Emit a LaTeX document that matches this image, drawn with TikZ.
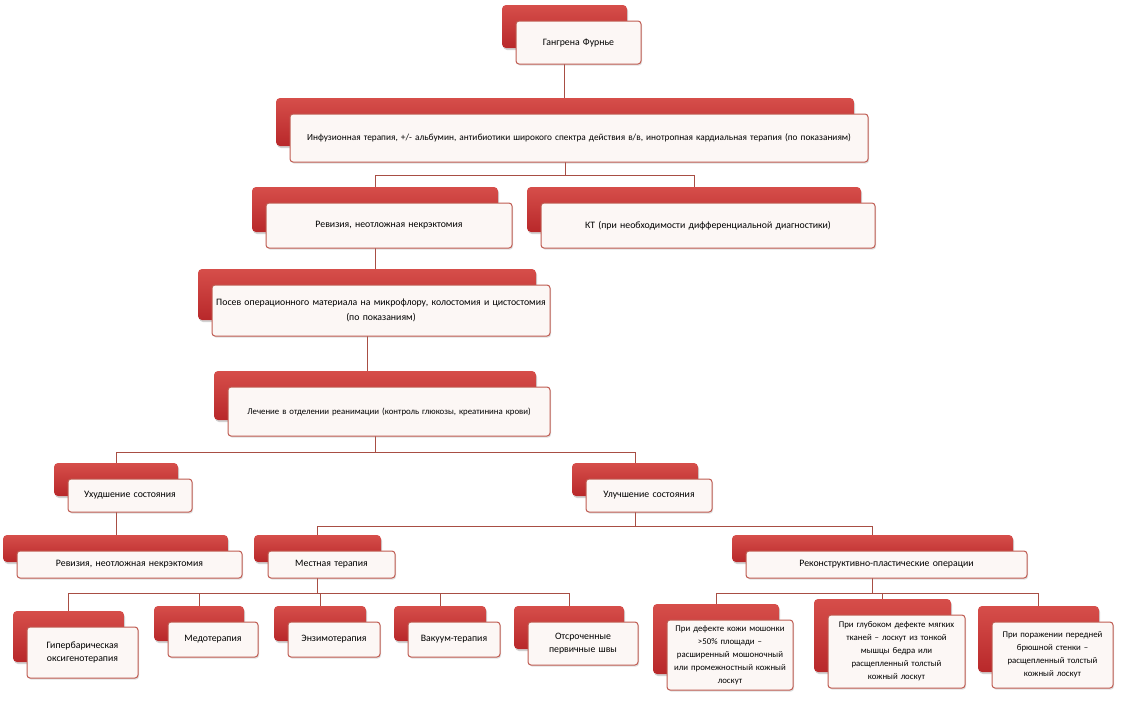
\documentclass[tikz,border=0pt]{standalone}
\usepackage{fontspec}
\setmainfont{Carlito}
\usetikzlibrary{shadows,calc}
\definecolor{redA}{RGB}{214,78,74}
\definecolor{redB}{RGB}{184,40,42}
\definecolor{wfill}{RGB}{252,247,245}
\definecolor{wline}{RGB}{192,92,82}
\definecolor{cline}{RGB}{168,78,68}
\pgfdeclarelayer{paper}
\pgfdeclarelayer{bg}
\pgfsetlayers{paper,bg,main}
\tikzset{
  redbox/.style={rounded corners=4pt, top color=redA, bottom color=redB, draw=none,
    inner sep=0pt, drop shadow={opacity=0.35, shadow xshift=1pt, shadow yshift=-2pt}},
  whitebox/.style={rounded corners=3pt, fill=wfill, draw=wline, line width=1pt,
    inner sep=0pt, align=center, font=\fontsize{9.8}{13}\selectfont,
    drop shadow={opacity=0.25, shadow xshift=1pt, shadow yshift=-1.5pt}},
  smalltext/.style={font=\fontsize{8.8}{13}\selectfont},
  conn/.style={draw=cline, line width=1pt}
}
% [options], name, x1, y1, x2, y2, text
\newcommand\mybox[7][]{%
  \node[redbox, minimum width={(#5-#3)*1pt}, minimum height={(#6-#4)*1pt}]
    (#2r) at ({(#3+#5)/2-14},{(#4+#6)/2-16}) {};
  \node[whitebox, minimum width={(#5-#3)*1pt}, minimum height={(#6-#4)*1pt},
    text width={(#5-#3-8)*1pt}, #1]
    (#2) at ({(#3+#5)/2},{(#4+#6)/2}) {#7};
}
\begin{document}
\begin{tikzpicture}[x=1pt,y=-1pt]
\useasboundingbox (0,0) rectangle (1122,710);
\begin{pgfonlayer}{paper}
\fill[white] (0,0) rectangle (1122,710);
\end{pgfonlayer}
\mybox{gang}{516}{21}{641}{64}{Гангрена Фурнье}
\mybox[font=\fontsize{9.3}{12}\selectfont]{inf}{290}{114}{868}{162}{Инфузионная терапия, +/- альбумин, антибиотики широкого спектра действия в/в, инотропная кардиальная терапия (по показаниям)}
\mybox{revA}{266}{203}{512}{248}{Ревизия, неотложная некрэктомия}
\mybox{kt}{541}{203}{875}{248}{КТ (при необходимости дифференциальной диагностики)}
\mybox[font=\fontsize{9.8}{15}\selectfont]{posev}{212}{285}{550}{336}{Посев операционного материала на микрофлору, колостомия и цистостомия\\(по показаниям)}
\mybox[font=\fontsize{8.8}{12}\selectfont]{lech}{228}{387}{550}{436}{Лечение в отделении реанимации (контроль глюкозы, креатинина крови)}
\mybox{uhud}{68}{479}{192}{512}{Ухудшение состояния}
\mybox{ulu}{586}{479}{712}{512}{Улучшение состояния}
\mybox{revB}{17}{551}{242}{578}{Ревизия, неотложная некрэктомия}
\mybox{mest}{268}{551}{395}{578}{Местная терапия}
\mybox{recon}{746}{551}{1027}{578}{Реконструктивно-пластические операции}
\mybox{gip}{27}{627}{138}{678}{Гипербарическая\\оксигенотерапия}
\mybox{med}{168}{622}{258}{657}{Медотерапия}
\mybox{enz}{288}{622}{380}{657}{Энзимотерапия}
\mybox{vac}{408}{622}{500}{657}{Вакуум-терапия}
\mybox{ots}{528}{622}{638}{665}{Отсроченные\\первичные швы}
\mybox[smalltext]{def}{667}{620}{793}{690}{При дефекте кожи мошонки\\>50\% площади –\\расширенный мошоночный\\или промежностный кожный\\лоскут}
\mybox[smalltext]{glub}{828}{615}{965}{688}{При глубоком дефекте мягких\\тканей – лоскут из тонкой\\мышцы бедра или\\расщепленный толстый\\кожный лоскут}
\mybox[smalltext]{por}{992}{622}{1113}{688}{При поражении передней\\брюшной стенки –\\расщепленный толстый\\кожный лоскут}
\coordinate (hA) at (0,175);
\coordinate (hB) at (0,452);
\coordinate (hC) at (0,526);
\coordinate (hD) at (0,593);
\begin{pgfonlayer}{bg}
\draw[conn] (gangr.south) -- (gangr.south |- infr.north);
\draw[conn] (infr.south) -- (infr.south |- hA) -| (revAr.north);
\draw[conn] (infr.south |- hA) -| (ktr.north);
\draw[conn] (revAr.south) -- (revAr.south |- posevr.north);
\draw[conn] (posevr.south) -- (posevr.south |- lechr.north);
\draw[conn] (lechr.south) -- (lechr.south |- hB) -| (uhudr.north);
\draw[conn] (lechr.south |- hB) -| (ulur.north);
\draw[conn] (uhudr.south) -- (uhudr.south |- revBr.north);
\draw[conn] (ulur.south) -- (ulur.south |- hC) -| (mestr.north);
\draw[conn] (ulur.south |- hC) -| (reconr.north);
\draw[conn] (mestr.south) -- (mestr.south |- hD) -| (gipr.north);
\draw[conn] (mestr.south |- hD) -| (medr.north);
\draw[conn] (mestr.south |- hD) -| (enzr.north);
\draw[conn] (mestr.south |- hD) -| (vacr.north);
\draw[conn] (mestr.south |- hD) -| (otsr.north);
\draw[conn] (reconr.south) -- (reconr.south |- hD) -| (defr.north);
\draw[conn] (reconr.south |- hD) -| (glubr.north);
\draw[conn] (reconr.south |- hD) -| (porr.north);
\end{pgfonlayer}
\end{tikzpicture}
\end{document}
